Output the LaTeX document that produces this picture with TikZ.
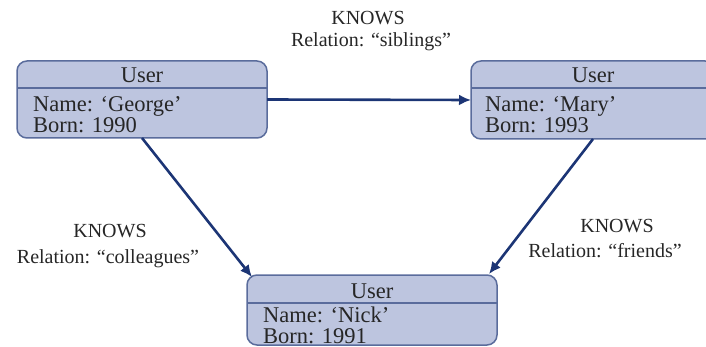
\documentclass[tikz,border=0pt]{standalone}
\usepackage{fontspec}
\setmainfont{Liberation Serif}
\usetikzlibrary{arrows.meta}
\definecolor{boxfill}{HTML}{BDC5DF}
\definecolor{boxline}{HTML}{5A6C9C}
\definecolor{arrowcol}{HTML}{1C3575}
\begin{document}
\begin{tikzpicture}[x=1pt,y=-1pt,
  userbox/.style={draw=boxline,fill=boxfill,line width=1.5pt,rounded corners=10pt,inner sep=0pt,outer sep=0pt},
  boxtext/.style={font=\fontsize{22.5}{20}\selectfont,inner sep=0pt,text=black!85,text height=14pt,text depth=4pt},
  lbltext/.style={font=\fontsize{20}{20}\selectfont,inner sep=0pt,anchor=base,text=black!85},
  rel/.style={draw=arrowcol,line width=2.6pt,-{Latex[length=12pt,width=11pt]}}]
\useasboundingbox (0,0) rectangle (706,347);
\clip (0,0) rectangle (706,347);
% boxes
\node[userbox,minimum width=250pt,minimum height=77pt] (george) at (142,99.5) {};
\node[userbox,minimum width=244pt,minimum height=78pt] (mary) at (593,100) {};
\node[userbox,minimum width=250pt,minimum height=70pt] (nick) at (372,310) {};
\draw[boxline,line width=1.5pt] (george.west |- 0,88) -- (george.east |- 0,88);
\draw[boxline,line width=1.5pt] (mary.west |- 0,88) -- (mary.east |- 0,88);
\draw[boxline,line width=1.5pt] (nick.west |- 0,303) -- (nick.east |- 0,303);
% box texts
\node[boxtext,anchor=base] (gu) at (142,83) {User};
\node[boxtext,anchor=base west] (gn) at (33,112) {Name: ‘George’};
\node[boxtext,anchor=base west] (gb) at (33,133) {Born: 1990};
\node[boxtext,anchor=base] (mu) at (593,83) {User};
\node[boxtext,anchor=base west] (mn) at (485,112) {Name: ‘Mary’};
\node[boxtext,anchor=base west] (mb) at (485,133) {Born: 1993};
\node[boxtext,anchor=base] (nu) at (372,298) {User};
\node[boxtext,anchor=base west] (nn) at (263,322) {Name: ‘Nick’};
\node[boxtext,anchor=base west] (nb) at (263,343) {Born: 1991};
% labels
\node[lbltext] (k1) at (368,25) {KNOWS};
\node[lbltext] (r1) at (371,47) {Relation: “siblings”};
\node[lbltext] (k2) at (110,238) {KNOWS};
\node[lbltext] (r2) at (108,263) {Relation: “colleagues”};
\node[lbltext] (k3) at (617,233) {KNOWS};
\node[lbltext] (r3) at (605,258) {Relation: “friends”};
% connectors
\coordinate (nickL) at (252,277);
\coordinate (nickR) at (489,274);
\draw[rel] (george.east) -- (mary.west);
\draw[rel] (george.south) -- (nickL);
\draw[rel] (mary.south) -- (nickR);
\end{tikzpicture}
\end{document}
